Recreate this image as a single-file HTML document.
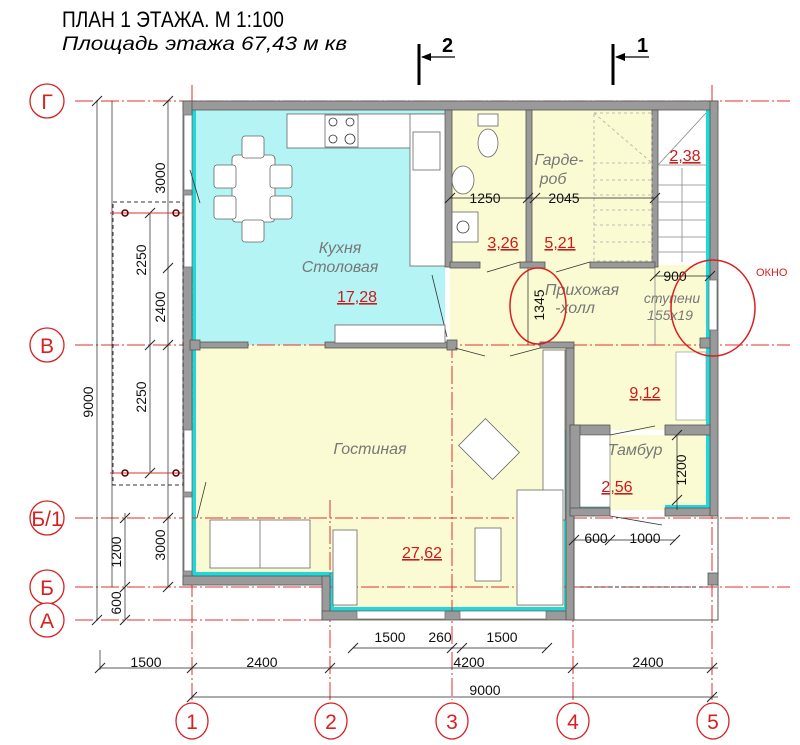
<!DOCTYPE html>
<html><head><meta charset="utf-8"><style>
body{margin:0;background:#fff;}
svg{display:block;font-family:"Liberation Sans",sans-serif;}
.ax{stroke:#e03030;stroke-width:1;stroke-dasharray:18 3 2 3;fill:none}
.cl{fill:#fff;stroke:#d82020;stroke-width:1.3}
.ct{fill:#d82020;font-size:21px;text-anchor:middle}
.w{fill:#9a9a9a;stroke:#555;stroke-width:.8}
.d{stroke:#333;stroke-width:.8;fill:none}
.t{font-size:14px;fill:#111}
.r{fill:#cc1a1a;font-size:16px;text-decoration:underline}
.g{fill:#777;font-size:16px;font-style:italic}
.f{fill:#fff;stroke:#666;stroke-width:.8}
</style></head><body>
<svg width="800" height="745" viewBox="0 0 800 745">
<text transform="translate(62 27) scale(0.87 1)" font-size="22">ПЛАН 1 ЭТАЖА.  М 1:100</text>
<text transform="translate(62 50) scale(1 1)" font-size="19" font-style="italic" textLength="285" lengthAdjust="spacingAndGlyphs">Площадь этажа 67,43 м кв</text>
<!-- section marks -->
<g stroke="#000" stroke-width="3"><line x1="419" y1="44" x2="419" y2="85"/><line x1="613" y1="44" x2="613" y2="85"/></g>
<g stroke="#000" stroke-width="1.2"><line x1="422" y1="57" x2="455" y2="57"/><line x1="616" y1="57" x2="649" y2="57"/></g>
<polygon points="421,57 431,53 431,61" fill="#000"/><polygon points="615,57 625,53 625,61" fill="#000"/>
<text x="442" y="52" font-size="20" font-weight="bold">2</text><text x="637" y="52" font-size="20" font-weight="bold">1</text>

<!-- room fills -->
<rect x="192" y="110" width="253" height="235" fill="#b4f4f4"/>
<rect x="450" y="110" width="205" height="155" fill="#fbfbd3"/>
<rect x="450" y="265" width="260" height="80" fill="#fbfbd3"/>
<rect x="545" y="345" width="165" height="85" fill="#fbfbd3"/>
<rect x="192" y="345" width="378" height="230" fill="#fbfbd3"/>
<rect x="330" y="575" width="240" height="37" fill="#fbfbd3"/>
<rect x="610" y="435" width="100" height="75" fill="#fbfbd3"/>
<rect x="655" y="110" width="55" height="155" fill="#fff"/>
<!-- cyan trims -->
<g fill="#20d8d8"><rect x="192" y="106" width="518" height="4"/><rect x="192" y="110" width="4" height="470"/><rect x="192" y="572" width="138" height="4"/><rect x="330" y="572" width="4" height="40"/><rect x="330" y="607" width="240" height="4"/><rect x="564" y="430" width="4" height="180"/><rect x="706" y="110" width="4" height="400"/><rect x="580" y="505" width="30" height="4"/><rect x="665" y="505" width="45" height="4"/><rect x="575" y="430" width="4" height="80"/></g>

<!-- axes -->
<g class="ax">
<line x1="75" y1="101" x2="790" y2="101"/><line x1="75" y1="345" x2="790" y2="345"/><line x1="75" y1="518" x2="790" y2="518"/><line x1="75" y1="587" x2="790" y2="587"/><line x1="75" y1="620" x2="330" y2="620"/>
<line x1="192" y1="85" x2="192" y2="700"/><line x1="330" y1="500" x2="330" y2="700"/><line x1="452" y1="340" x2="452" y2="700"/><line x1="573" y1="500" x2="573" y2="700"/><line x1="712" y1="85" x2="712" y2="700"/>
</g>
<g><circle class="cl" cx="47" cy="101" r="17"/><text class="ct" x="47" y="109">Г</text>
<circle class="cl" cx="47" cy="345" r="17"/><text class="ct" x="47" y="353">В</text>
<circle class="cl" cx="47" cy="518" r="17"/><text class="ct" x="47" y="526" font-size="18">Б/1</text>
<circle class="cl" cx="47" cy="587" r="17"/><text class="ct" x="47" y="595">Б</text>
<circle class="cl" cx="47" cy="620" r="17"/><text class="ct" x="47" y="628">А</text>
<ellipse class="cl" cx="192" cy="721" rx="16" ry="18"/><text class="ct" x="192" y="729">1</text>
<ellipse class="cl" cx="331" cy="721" rx="16" ry="18"/><text class="ct" x="331" y="729">2</text>
<ellipse class="cl" cx="452" cy="721" rx="16" ry="18"/><text class="ct" x="452" y="729">3</text>
<ellipse class="cl" cx="573" cy="721" rx="16" ry="18"/><text class="ct" x="573" y="729">4</text>
<ellipse class="cl" cx="713" cy="721" rx="16" ry="18"/><text class="ct" x="713" y="729">5</text></g>

<!-- walls -->
<rect class="w" x="183" y="101" width="535" height="9"/>
<rect class="w" x="183" y="101" width="9" height="484"/>
<rect class="w" x="710" y="101" width="8" height="415"/>
<rect class="w" x="183" y="576" width="147" height="9"/>
<rect class="w" x="322" y="576" width="8" height="44"/>
<rect class="w" x="322" y="611" width="250" height="9"/>
<rect class="w" x="566" y="345" width="8" height="275"/>
<rect class="w" x="445" y="110" width="7" height="157"/>
<rect class="w" x="526" y="110" width="6" height="157"/>
<rect class="w" x="652" y="110" width="6" height="157"/>
<rect class="w" x="450" y="262" width="30" height="6"/><rect class="w" x="520" y="262" width="25" height="6"/><rect class="w" x="590" y="262" width="65" height="6"/>
<rect class="w" x="196" y="342" width="52" height="6"/><rect class="w" x="325" y="342" width="122" height="6"/><rect class="w" x="540" y="342" width="34" height="6"/>
<rect class="w" x="447" y="340" width="10" height="10" stroke="#1aa"/>
<rect class="w" x="190" y="340" width="10" height="10" stroke="#1aa"/>
<rect class="w" x="700" y="338" width="10" height="10" stroke="#1aa"/>
<rect class="w" x="570" y="425" width="40" height="10"/><rect class="w" x="665" y="425" width="45" height="10"/>
<rect class="w" x="570" y="425" width="10" height="90"/>
<rect class="w" x="570" y="508" width="40" height="8"/><rect class="w" x="665" y="508" width="45" height="8"/>
<rect x="580" y="435" width="30" height="72" fill="#fff" stroke="#666" stroke-width=".6"/>
<!-- porch -->
<path d="M574 516 V620 H718 V516" fill="none" stroke="#555" stroke-width="1"/>
<rect class="w" x="708" y="573" width="10" height="12"/>
<line x1="580" y1="587" x2="708" y2="587" stroke="#333" stroke-dasharray="4 3"/>
<!-- windows -->
<g fill="#fff" stroke="#777" stroke-width=".8"><rect x="184" y="115" width="8" height="75"/><rect x="184" y="195" width="8" height="72"/><rect x="184" y="430" width="8" height="62"/><rect x="184" y="497" width="8" height="74"/><rect x="357" y="611" width="88" height="8"/><rect x="460" y="611" width="86" height="8"/><rect x="709" y="280" width="8" height="50"/></g>
<g class="d"><line x1="190" y1="170" x2="200" y2="203"/><line x1="206" y1="482" x2="197" y2="518"/><line x1="432" y1="275" x2="447" y2="337"/><line x1="487" y1="272" x2="520" y2="262"/><line x1="556" y1="272" x2="590" y2="262"/><line x1="455" y1="348" x2="485" y2="356"/><line x1="510" y1="356" x2="540" y2="348"/><line x1="610" y1="435" x2="655" y2="426"/><line x1="610" y1="516" x2="662" y2="525"/></g>

<!-- kitchen furniture -->
<rect class="f" x="287" y="114" width="158" height="34"/>
<rect class="f" x="325" y="115" width="33" height="32"/>
<g class="d"><circle cx="333" cy="122" r="4"/><circle cx="350" cy="122" r="4"/><circle cx="333" cy="139" r="4"/><circle cx="350" cy="139" r="5"/></g>
<rect class="f" x="410" y="114" width="35" height="152"/>
<rect class="f" x="413" y="132" width="27" height="38"/>
<rect class="f" x="335" y="325" width="110" height="18"/>
<rect class="f" x="232" y="155" width="43" height="67" rx="4"/>
<g class="f"><rect x="242" y="136" width="22" height="22" rx="3"/><rect x="242" y="220" width="22" height="22" rx="3"/><rect x="214" y="165" width="22" height="23" rx="3"/><rect x="214" y="196" width="22" height="23" rx="3"/><rect x="270" y="165" width="22" height="23" rx="3"/><rect x="270" y="196" width="22" height="23" rx="3"/></g>
<!-- bathroom -->
<rect class="f" x="478" y="114" width="20" height="12"/><ellipse class="f" cx="488" cy="143" rx="10" ry="14"/>
<ellipse class="f" cx="463" cy="180" rx="11" ry="14"/><rect class="f" x="452" y="212" width="26" height="30"/><circle class="d" cx="463" cy="227" r="6"/>
<!-- stairs -->
<g stroke="#aaa" stroke-width=".8" stroke-dasharray="3 3" fill="none"><rect x="594" y="113" width="58" height="148"/><line x1="594" y1="113" x2="652" y2="163"/><line x1="594" y1="163" x2="652" y2="163"/><line x1="594" y1="180" x2="652" y2="180"/><line x1="594" y1="195" x2="652" y2="195"/><line x1="594" y1="210" x2="652" y2="210"/><line x1="594" y1="225" x2="652" y2="225"/><line x1="594" y1="242" x2="652" y2="242"/></g>
<g stroke="#888" stroke-width=".8"><line x1="658" y1="165" x2="706" y2="113"/><line x1="658" y1="165" x2="706" y2="165"/><line x1="658" y1="185" x2="706" y2="185"/><line x1="658" y1="202" x2="706" y2="202"/><line x1="658" y1="220" x2="706" y2="220"/><line x1="658" y1="237" x2="706" y2="237"/><line x1="658" y1="252" x2="706" y2="252"/><line x1="682" y1="168" x2="682" y2="262"/><line x1="655" y1="268" x2="655" y2="345"/></g>
<!-- hall wardrobe -->
<rect x="676" y="352" width="30" height="68" fill="#fff" stroke="#999" stroke-width=".7"/>
<!-- living furniture -->
<rect class="f" x="543" y="350" width="22" height="170"/>
<rect class="f" x="517" y="490" width="46" height="115"/>
<rect class="f" x="210" y="520" width="100" height="48"/><line x1="260" y1="520" x2="260" y2="568" stroke="#888"/>
<rect class="f" x="333" y="530" width="24" height="75"/>
<rect class="f" x="475" y="528" width="26" height="53"/>
<rect class="f" x="465" y="430" width="48" height="38" transform="rotate(45 489 449)"/>

<!-- dimensions -->
<g stroke="#222" stroke-width=".7" fill="none">
<line x1="97" y1="101" x2="97" y2="620"/><line x1="125" y1="513" x2="125" y2="620"/><line x1="150" y1="213" x2="150" y2="473"/><line x1="168" y1="101" x2="168" y2="587"/>
<line x1="112" y1="101" x2="112" y2="587"/>
<line x1="353" y1="648" x2="547" y2="648"/><line x1="100" y1="668" x2="718" y2="668"/><line x1="192" y1="697" x2="718" y2="697"/>
<line x1="450" y1="198" x2="655" y2="198"/><line x1="528" y1="268" x2="528" y2="345"/><line x1="655" y1="276" x2="710" y2="276"/>
<line x1="677" y1="435" x2="677" y2="510"/><line x1="574" y1="540" x2="675" y2="540"/>
<line x1="100" y1="650" x2="100" y2="670"/>
</g>
<g stroke="#222" stroke-width="1">
<path d="M92 106l10-10M92 625l10-10M120 523l10-10M120 592l10-10M120 625l10-10M145 218l10-10M145 478l10-10M145 350l10-10M163 106l10-10M163 273l10-10M163 350l10-10M163 592l10-10M163 523l10-10"/>
<path d="M348 653l10-10M447 653l10-10M457 653l10-10M542 653l10-10M95 673l10-10M187 673l10-10M325 673l10-10M568 673l10-10M707 673l10-10M187 702l10-10M707 702l10-10M445 203l10-10M523 203l10-10M530 203l10-10M650 203l10-10M650 281l10-10M705 281l10-10M672 440l10-10M672 505l10-10M569 545l10-10M605 545l10-10M670 545l10-10"/>
</g>
<rect x="113" y="202" width="70" height="283" fill="none" stroke="#333" stroke-dasharray="4 3"/>
<line x1="110" y1="213" x2="183" y2="213" stroke="#e03030"/><line x1="110" y1="473" x2="183" y2="473" stroke="#e03030"/>
<g fill="none" stroke="#500" stroke-width="1.5"><circle cx="125" cy="213" r="3"/><circle cx="176" cy="213" r="3"/><circle cx="125" cy="473" r="3"/><circle cx="176" cy="473" r="3"/></g>

<g class="t">
<text x="390" y="642" text-anchor="middle">1500</text><text x="440" y="642" text-anchor="middle">260</text><text x="502" y="642" text-anchor="middle">1500</text>
<text x="146" y="667" text-anchor="middle">1500</text><text x="262" y="667" text-anchor="middle">2400</text><text x="469" y="667" text-anchor="middle">4200</text><text x="648" y="667" text-anchor="middle">2400</text>
<text x="485" y="695" text-anchor="middle">9000</text>
<text x="485" y="203" text-anchor="middle">1250</text><text x="564" y="203" text-anchor="middle">2045</text>
<text x="675" y="281" text-anchor="middle">900</text>
<text x="596" y="543" text-anchor="middle">600</text><text x="645" y="543" text-anchor="middle">1000</text>
<text transform="translate(93 402) rotate(-90)" text-anchor="middle">9000</text>
<text transform="translate(121 552) rotate(-90)" text-anchor="middle">1200</text>
<text transform="translate(121 603) rotate(-90)" text-anchor="middle">600</text>
<text transform="translate(146 260) rotate(-90)" text-anchor="middle">2250</text>
<text transform="translate(146 397) rotate(-90)" text-anchor="middle">2250</text>
<text transform="translate(165 178) rotate(-90)" text-anchor="middle">3000</text>
<text transform="translate(165 307) rotate(-90)" text-anchor="middle">2400</text>
<text transform="translate(165 545) rotate(-90)" text-anchor="middle">3000</text>
<text transform="translate(544 305) rotate(-90)" text-anchor="middle">1345</text>
<text transform="translate(686 470) rotate(-90)" text-anchor="middle">1200</text>
</g>
<g class="g" text-anchor="middle">
<text x="340" y="253">Кухня</text><text x="340" y="272">Столовая</text>
<text x="559" y="165">Гарде-</text><text x="553" y="184">роб</text>
<text x="582" y="295">Прихожая</text><text x="575" y="313">-холл</text>
<text x="672" y="303" font-size="14">ступени</text><text x="670" y="320" font-size="14">155x19</text>
<text x="370" y="454">Гостиная</text><text x="635" y="455">Тамбур</text>
</g>
<g class="r" text-anchor="middle">
<text x="357" y="302">17,28</text><text x="503" y="248">3,26</text><text x="560" y="248">5,21</text><text x="685" y="161">2,38</text>
<text x="645" y="398">9,12</text><text x="617" y="492">2,56</text><text x="422" y="558">27,62</text>
</g>
<text x="756" y="276" fill="#d82020" font-size="11">ОКНО</text>
<ellipse cx="538" cy="306" rx="28" ry="38" fill="none" stroke="#d82020" stroke-width="1.5"/>
<ellipse cx="713" cy="308" rx="42" ry="48" fill="none" stroke="#d82020" stroke-width="1.5"/>
</svg>
</body></html>
